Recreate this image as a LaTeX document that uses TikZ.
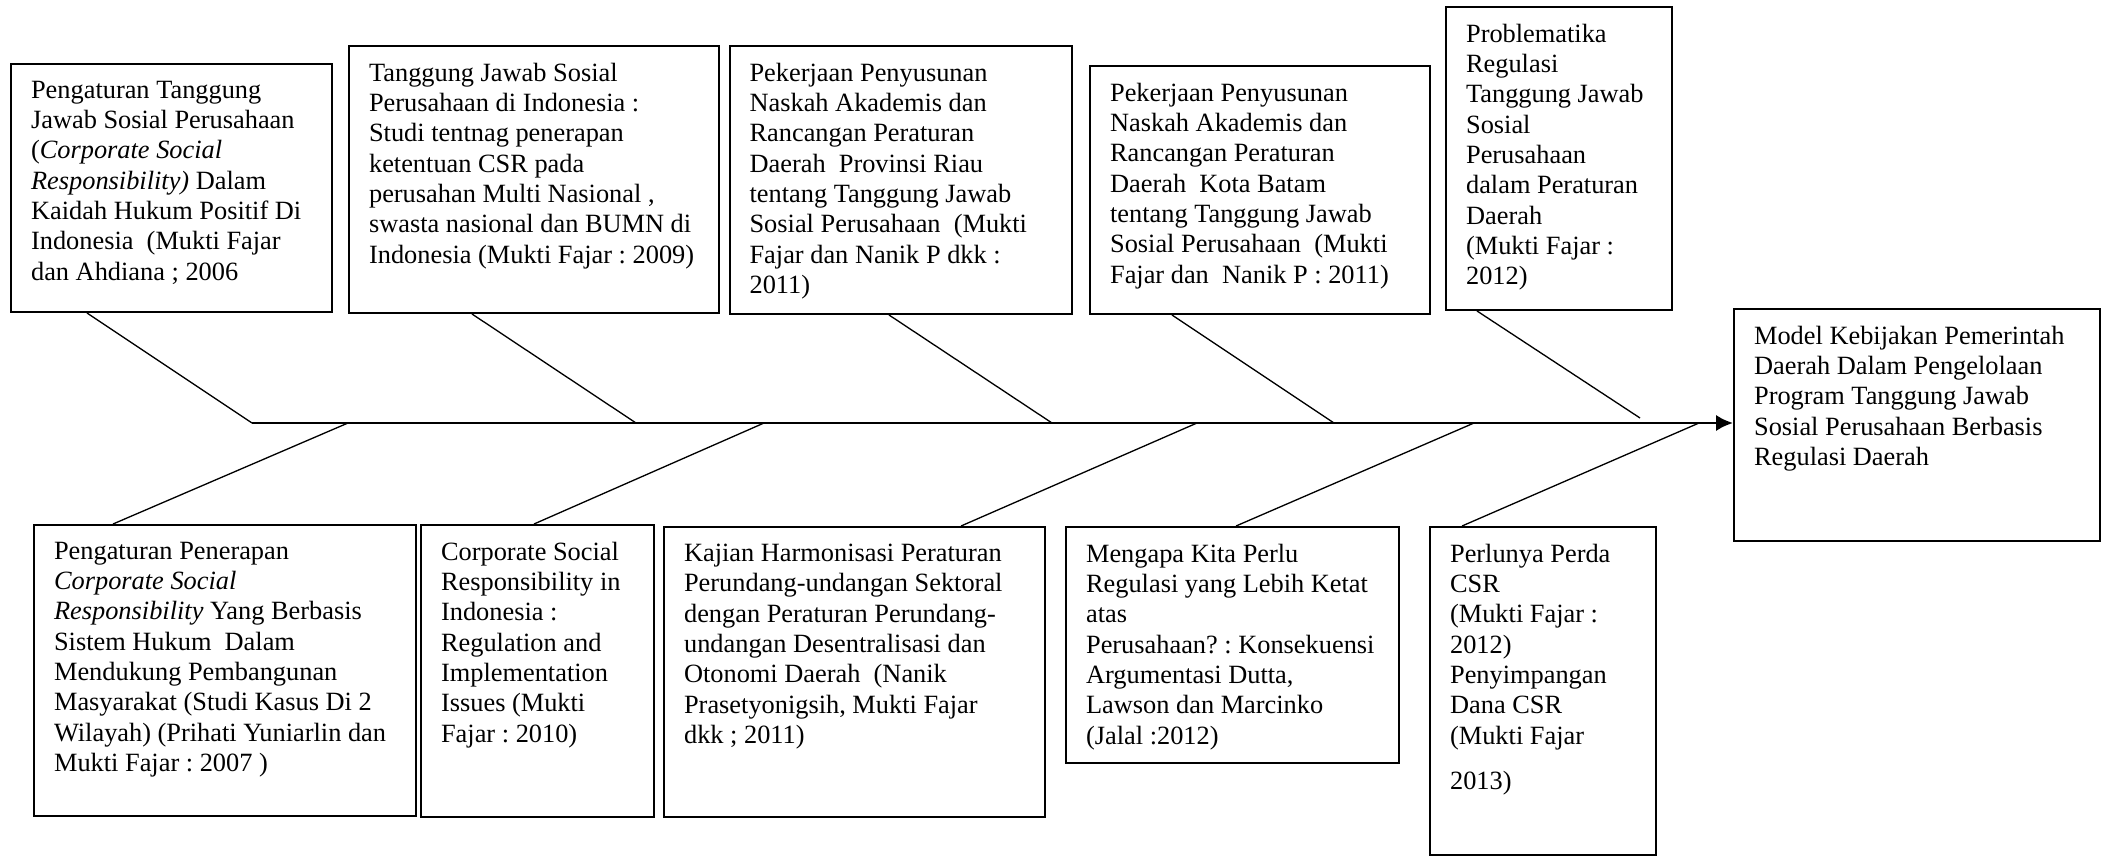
\documentclass[tikz,border=0pt]{standalone}
\usepackage{fontspec}
\setmainfont{Liberation Serif}
\usetikzlibrary{arrows.meta}
\frenchspacing

\begin{document}
\begin{tikzpicture}[
  box/.style={rectangle, draw, line width=0.9pt, inner sep=0pt},
  txt/.style={anchor=north west, align=left, inner xsep=0.33cm, inner ysep=8pt, font=\fontsize{12}{13.8}\selectfont},
  bone/.style={line width=0.6pt},
  spine/.style={-{Latex[length=0.27cm, width=0.26cm]}, line width=1.3pt},
]
\useasboundingbox (0,0) rectangle (33.616,-13.696);

% === TOP ROW ===
\node[box, minimum width=5.136cm, minimum height=3.968cm] (t1) at (2.744,-3.008) {};
\node[box, minimum width=5.92cm, minimum height=4.272cm] (t2) at (8.544,-2.872) {};
\node[box, minimum width=5.48cm, minimum height=4.288cm] (t3) at (14.412,-2.88) {};
\node[box, minimum width=5.44cm, minimum height=3.968cm] (t4) at (20.16,-3.04) {};
\node[box, minimum width=3.616cm, minimum height=4.848cm] (t5) at (24.944,-2.536) {};

\node[txt] at (t1.north west) {Pengaturan Tanggung\\Jawab Sosial Perusahaan\\(\textit{Corporate Social}\\\textit{Responsibility)} Dalam\\Kaidah Hukum Positif Di\\Indonesia\ \ (Mukti Fajar\\dan Ahdiana ; 2006};
\node[txt] at (t2.north west) {Tanggung Jawab Sosial\\Perusahaan di Indonesia :\\Studi tentnag penerapan\\ketentuan CSR pada\\perusahan Multi Nasional ,\\swasta nasional dan BUMN di\\Indonesia (Mukti Fajar : 2009)};
\node[txt] at (t3.north west) {Pekerjaan Penyusunan\\Naskah Akademis dan\\Rancangan Peraturan\\Daerah\ \ Provinsi Riau\\tentang Tanggung Jawab\\Sosial Perusahaan\ \ (Mukti\\Fajar dan Nanik P dkk :\\2011)};
\node[txt] at (t4.north west) {Pekerjaan Penyusunan\\Naskah Akademis dan\\Rancangan Peraturan\\Daerah\ \ Kota Batam\\tentang Tanggung Jawab\\Sosial Perusahaan\ \ (Mukti\\Fajar dan\ \ Nanik P : 2011)};
\node[txt] at (t5.north west) {Problematika\\Regulasi\\Tanggung Jawab\\Sosial\\Perusahaan\\dalam Peraturan\\Daerah\\(Mukti Fajar :\\2012)};

% === RESULT ===
\node[box, minimum width=5.856cm, minimum height=3.712cm] (res) at (30.672,-6.8) {};
\node[txt] at (res.north west) {Model Kebijakan Pemerintah\\Daerah Dalam Pengelolaan\\Program Tanggung Jawab\\Sosial Perusahaan Berbasis\\Regulasi Daerah};

% === BOTTOM ROW ===
\node[box, minimum width=6.112cm, minimum height=4.656cm] (b1) at (3.6,-10.728) {};
\node[box, minimum width=3.728cm, minimum height=4.672cm] (b2) at (8.6,-10.736) {};
\node[box, minimum width=6.096cm, minimum height=4.64cm] (b3) at (13.672,-10.752) {};
\node[box, minimum width=5.328cm, minimum height=3.776cm] (b4) at (19.72,-10.32) {};
\node[box, minimum width=3.616cm, minimum height=5.248cm] (b5) at (24.688,-11.056) {};

\node[txt] at (b1.north west) {Pengaturan Penerapan\\\textit{Corporate Social}\\\textit{Responsibility} Yang Berbasis\\Sistem Hukum\ \ Dalam\\Mendukung Pembangunan\\Masyarakat (Studi Kasus Di 2\\Wilayah) (Prihati Yuniarlin dan\\Mukti Fajar : 2007 )};
\node[txt] at (b2.north west) {Corporate Social\\Responsibility in\\Indonesia :\\Regulation and\\Implementation\\Issues (Mukti\\Fajar : 2010)};
\node[txt] at (b3.north west) {Kajian Harmonisasi Peraturan\\Perundang-undangan Sektoral\\dengan Peraturan Perundang-\\undangan Desentralisasi dan\\Otonomi Daerah\ \ (Nanik\\Prasetyonigsih, Mukti Fajar\\dkk ; 2011)};
\node[txt] at (b4.north west) {Mengapa Kita Perlu\\Regulasi yang Lebih Ketat\\atas\\Perusahaan? : Konsekuensi\\Argumentasi Dutta,\\Lawson dan Marcinko\\(Jalal :2012)};
\node[txt] at (b5.north west) {Perlunya Perda\\CSR\\(Mukti Fajar :\\2012)\\Penyimpangan\\Dana CSR\\(Mukti Fajar\\[7pt]2013)};

% === SPINE AND BONES ===
\coordinate (tail) at (4.032,-6.768);
\draw[spine] (tail) -- (tail -| res.west);

\draw[bone] (t1.south -| 1.392,0) -- (tail -| 4.032,0);
\draw[bone] (t2.south -| 7.552,0) -- (tail -| 10.176,0);
\draw[bone] (t3.south -| 14.224,0) -- (tail -| 16.832,0);
\draw[bone] (t4.south -| 18.752,0) -- (tail -| 21.344,0);
\draw[bone] (t5.south -| 23.632,0) -- (26.24,-6.688);

\draw[bone] (b1.north -| 1.808,0) -- (tail -| 5.568,0);
\draw[bone] (b2.north -| 8.544,0) -- (tail -| 12.224,0);
\draw[bone] (b3.north -| 15.376,0) -- (tail -| 19.152,0);
\draw[bone] (b4.north -| 19.776,0) -- (tail -| 23.584,0);
\draw[bone] (b5.north -| 23.392,0) -- (tail -| 27.184,0);
\end{tikzpicture}
\end{document}
